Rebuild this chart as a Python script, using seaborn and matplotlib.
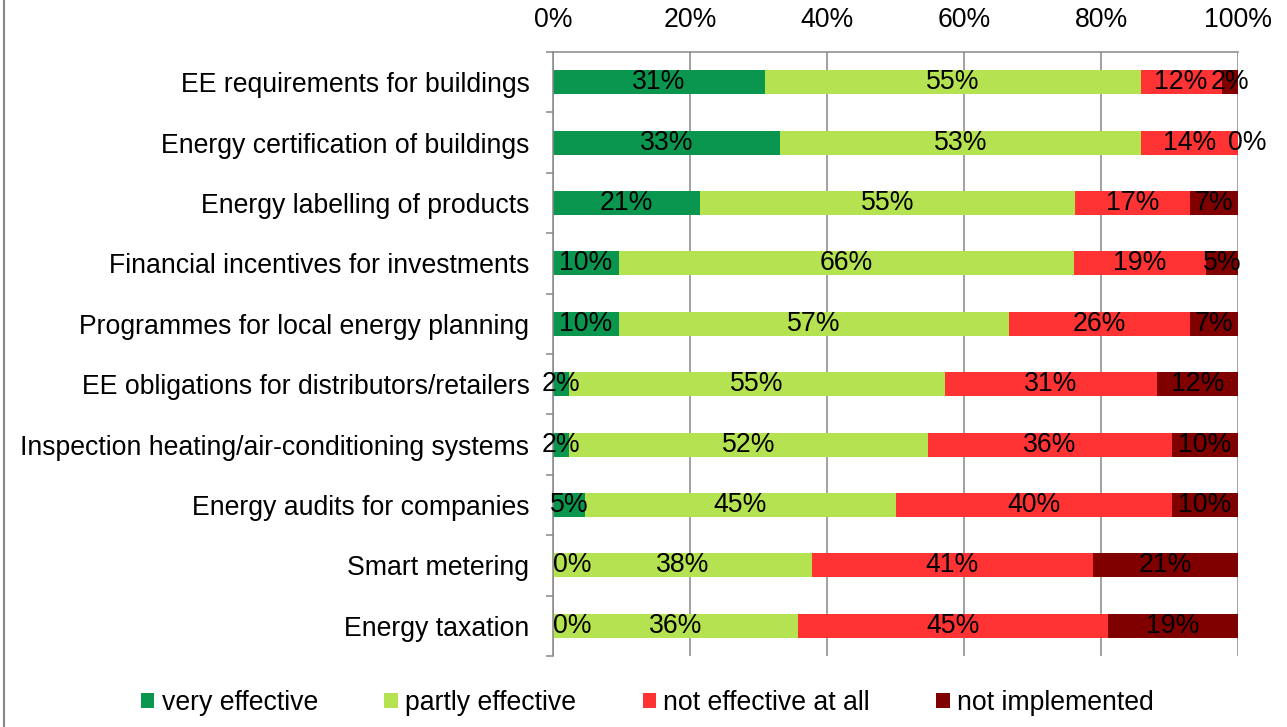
import numpy as np
import pandas as pd
import matplotlib
matplotlib.use("Agg")
import matplotlib.pyplot as plt
from matplotlib.lines import Line2D
from matplotlib.patches import Patch
import seaborn as sns

categories = [
    "EE requirements for buildings",
    "Energy certification of buildings",
    "Energy labelling of products",
    "Financial incentives for investments",
    "Programmes for local energy planning",
    "EE obligations for distributors/retailers",
    "Inspection heating/air-conditioning systems",
    "Energy audits for companies",
    "Smart metering",
    "Energy taxation",
]
very_effective = [30.9, 33.1, 21.4, 9.6, 9.6, 2.3, 2.3, 4.7, 0.0, 0.0]
partly_effective = [54.9, 52.7, 54.8, 66.4, 57.0, 54.9, 52.4, 45.3, 37.8, 35.7]
not_effective = [11.8, 14.2, 16.8, 19.3, 26.4, 31.0, 35.7, 40.4, 41.0, 45.3]
not_implemented = [2.4, 0.0, 7.0, 4.7, 7.0, 11.8, 9.6, 9.6, 21.2, 19.0]

series_names = ["very effective", "partly effective", "not effective at all", "not implemented"]
series_colors = ["#0B9650", "#B5E250", "#FF3333", "#800000"]
tick_values = [0, 20, 40, 60, 80, 100]
tick_labels = ["0%", "20%", "40%", "60%", "80%", "100%"]

sns.set_theme(style="white")
plt.rcParams["font.family"] = ["Liberation Sans", "DejaVu Sans"]
plt.rcParams["text.color"] = "black"

FS = 19.2
GRAY = "#888888"

df = pd.DataFrame({
    "category": categories,
    series_names[0]: very_effective,
    series_names[1]: partly_effective,
    series_names[2]: not_effective,
    series_names[3]: not_implemented,
})
cum = df[series_names].cumsum(axis=1)

fig = plt.figure(figsize=(12.87, 7.27), dpi=100)
ax = fig.add_axes([553 / 1287, 1 - 656 / 727, (1238 - 553) / 1287, (656 - 52) / 727])

# draw stacked bars from the back (largest cumulative first)
for name, color in reversed(list(zip(series_names, series_colors))):
    sns.barplot(x=cum[name], y=df["category"], orient="h", color=color,
                saturation=1, width=0.4, ax=ax, linewidth=0)

# value labels
for i in range(len(categories)):
    start = 0.0
    for name in series_names:
        v = df.loc[i, name]
        txt = f"{v:.0f}%"
        if v == 0:
            if start == 0:
                ax.text(start, i, txt, ha="left", va="center", fontsize=FS, color="black")
            else:
                ax.annotate(txt, (start, i), xytext=(7, 0), textcoords="offset points",
                            ha="center", va="center", fontsize=FS, color="black")
        else:
            ax.text(start + v / 2, i, txt, ha="center", va="center", fontsize=FS, color="black")
        start += v

ax.set_xlim(0, 100)
ax.set_ylim(len(categories) - 0.5, -0.5)
ax.set_xlabel("")
ax.set_ylabel("")

ax.xaxis.tick_top()
ax.set_xticks(tick_values)
ax.set_xticklabels(tick_labels, fontsize=FS)
ax.tick_params(axis="x", length=0, pad=14, labelcolor="black")
ax.grid(axis="x", color=GRAY, linewidth=1.1)
ax.grid(axis="y", visible=False)
ax.set_axisbelow(True)

ax.set_yticks(range(len(categories)))
ax.set_yticklabels(categories, fontsize=FS)
ax.set_yticks(np.arange(-0.5, len(categories), 1), minor=True)
ax.tick_params(axis="y", which="major", length=0, pad=17, left=True, labelcolor="black")
ax.tick_params(axis="y", which="minor", length=5, width=1.1, color=GRAY, left=True, direction="out")

for side in ["right", "bottom"]:
    ax.spines[side].set_visible(False)
for side in ["top", "left"]:
    ax.spines[side].set_visible(True)
    ax.spines[side].set_color(GRAY)
    ax.spines[side].set_linewidth(1.1)

handles = [Patch(facecolor=c, edgecolor="none") for c in series_colors]
leg = fig.legend(handles, series_names, loc="center", bbox_to_anchor=(0.503, 1 - 703 / 727),
                 ncol=4, frameon=False, fontsize=FS, handlelength=0.5, handleheight=0.5,
                 handletextpad=0.27, columnspacing=2.5)
for t in leg.get_texts():
    t.set_color("black")

fig.add_artist(Line2D([3.5 / 1287, 3.5 / 1287], [0, 1], color=GRAY, linewidth=1.5))

fig.savefig("out.png", dpi=100)
